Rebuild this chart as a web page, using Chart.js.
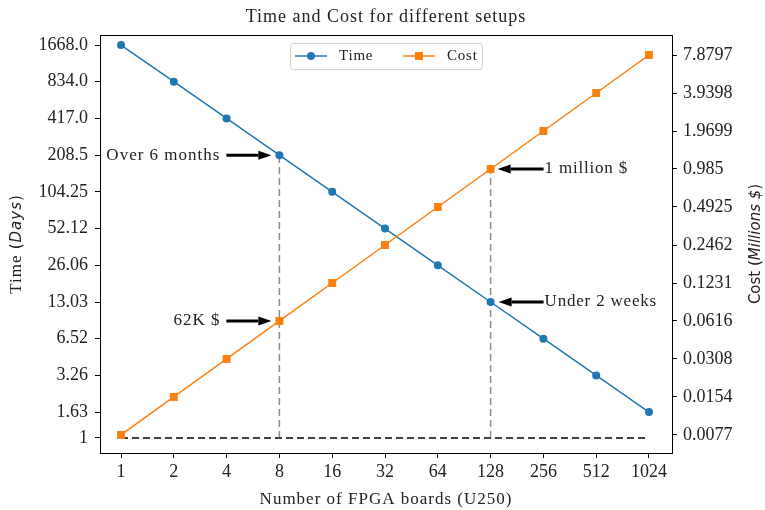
<!DOCTYPE html>
<html>
<head>
<meta charset="utf-8">
<script src="https://cdn.jsdelivr.net/npm/chart.js@4/dist/chart.umd.min.js"></script>
<style>
  body { margin: 0; background: #fff; }
</style>
</head>
<body>
<canvas id="chart" width="765" height="510"></canvas>
<script>
const boards = [1, 2, 4, 8, 16, 32, 64, 128, 256, 512, 1024];
const timeDays = [1668, 834, 417, 208.5, 104.25, 52.12, 26.06, 13.03, 6.52, 3.26, 1.63];
const costMillions = [0.0077, 0.0154, 0.0308, 0.0616, 0.1231, 0.2462, 0.4925, 0.985, 1.9699, 3.9398, 7.8797];
const timeTickLabels = ['1', '1.63', '3.26', '6.52', '13.03', '26.06', '52.12', '104.25', '208.5', '417.0', '834.0', '1668.0'];
const costTickLabels = ['0.0077', '0.0154', '0.0308', '0.0616', '0.1231', '0.2462', '0.4925', '0.985', '1.9699', '3.9398', '7.8797'];

const SERIF = '"Liberation Serif", "Times New Roman", serif';
const SANS = '"DejaVu Sans", sans-serif';
const BLUE = '#1f77b4';
const ORANGE = '#ff7f0e';

function ticksFrom(labels) {
  return function (scale) {
    scale.ticks = labels.map(l => ({ value: parseFloat(l) }));
  };
}

function arrow(ctx, x1, y, x2) {
  // shaft from x1 to x2, head at x2
  const dir = x2 > x1 ? 1 : -1;
  const headLen = 13;
  ctx.save();
  ctx.strokeStyle = '#000';
  ctx.fillStyle = '#000';
  ctx.lineWidth = 3;
  ctx.beginPath();
  ctx.moveTo(x1, y);
  ctx.lineTo(x2 - dir * headLen, y);
  ctx.stroke();
  ctx.beginPath();
  ctx.moveTo(x2, y);
  ctx.lineTo(x2 - dir * headLen, y - 4.5);
  ctx.lineTo(x2 - dir * headLen, y + 4.5);
  ctx.closePath();
  ctx.fill();
  ctx.restore();
}

const extras = {
  id: 'extras',
  beforeDatasetsDraw(chart) {
    const { ctx, scales } = chart;
    const x = scales.x, y = scales.y, y2 = scales.y2;
    const baseY = y.getPixelForValue(1);
    ctx.save();
    ctx.lineWidth = 1.5;
    ctx.setLineDash([7, 4]);
    // vertical guides
    ctx.strokeStyle = '#8c8c8c';
    let px = x.getPixelForValue(8);
    ctx.beginPath();
    ctx.moveTo(px, baseY);
    ctx.lineTo(px, y.getPixelForValue(timeDays[3]));
    ctx.stroke();
    px = x.getPixelForValue(128);
    ctx.beginPath();
    ctx.moveTo(px, baseY);
    ctx.lineTo(px, y2.getPixelForValue(costMillions[7]));
    ctx.stroke();
    // horizontal guide at 1 day
    ctx.strokeStyle = '#404040';
    ctx.lineWidth = 2;
    ctx.beginPath();
    ctx.moveTo(x.getPixelForValue(1), baseY);
    ctx.lineTo(x.getPixelForValue(1024), baseY);
    ctx.stroke();
    ctx.restore();
  },
  afterDraw(chart) {
    const { ctx, scales, chartArea } = chart;
    const x = scales.x, y = scales.y, y2 = scales.y2;
    ctx.save();
    // frame
    ctx.strokeStyle = '#000';
    ctx.lineWidth = 1;
    ctx.strokeRect(chartArea.left + 0.5, chartArea.top + 0.5, chartArea.right - chartArea.left, chartArea.bottom - chartArea.top);

    ctx.letterSpacing = '1px';
    // title
    ctx.fillStyle = '#222';
    ctx.font = '18px ' + SERIF;
    ctx.textAlign = 'center';
    ctx.textBaseline = 'middle';
    ctx.fillText('Time and Cost for different setups', (chartArea.left + chartArea.right) / 2, 17);

    // x title
    ctx.font = '17px ' + SERIF;
    ctx.fillText('Number of FPGA boards (U250)', (chartArea.left + chartArea.right) / 2, 500);

    // left y title
    const cy = (chartArea.top + chartArea.bottom) / 2;
    ctx.save();
    ctx.translate(17, cy);
    ctx.rotate(-Math.PI / 2);
    const parts = [['Time ', '17px ' + SERIF], ['(', '15px ' + SANS], ['Days', 'italic 15px ' + SANS], [')', '15px ' + SANS]];
    let total = 0;
    parts.forEach(p => { ctx.font = p[1]; total += ctx.measureText(p[0]).width; });
    let cx = -total / 2;
    ctx.textAlign = 'left';
    parts.forEach(p => { ctx.font = p[1]; ctx.fillText(p[0], cx, 0); cx += ctx.measureText(p[0]).width; });
    ctx.restore();

    // right y title (reads bottom to top)
    ctx.save();
    ctx.letterSpacing = '0px';
    ctx.translate(756, cy);
    ctx.rotate(-Math.PI / 2);
    const rparts = [['Cost (', '15px ' + SANS], ['Millions $', 'italic 15px ' + SANS], [')', '15px ' + SANS]];
    total = 0;
    rparts.forEach(p => { ctx.font = p[1]; total += ctx.measureText(p[0]).width; });
    cx = -total / 2;
    ctx.textAlign = 'left';
    rparts.forEach(p => { ctx.font = p[1]; ctx.fillText(p[0], cx, 0); cx += ctx.measureText(p[0]).width; });
    ctx.restore();

    // annotations
    ctx.font = '17px ' + SERIF;
    ctx.fillStyle = '#222';
    let px = x.getPixelForValue(8);
    let py = y.getPixelForValue(timeDays[3]);
    arrow(ctx, px - 53, py, px - 8);
    ctx.textAlign = 'right';
    ctx.fillText('Over 6 months', px - 59, py);
    py = y2.getPixelForValue(costMillions[3]);
    arrow(ctx, px - 53, py, px - 8);
    ctx.fillText('62K $', px - 59, py);

    px = x.getPixelForValue(128);
    py = y2.getPixelForValue(costMillions[7]);
    arrow(ctx, px + 53, py, px + 7);
    ctx.textAlign = 'left';
    ctx.letterSpacing = '0.8px';
    ctx.fillText('1 million $', px + 54, py);
    py = y.getPixelForValue(timeDays[7]);
    arrow(ctx, px + 53, py, px + 8);
    ctx.fillText('Under 2 weeks', px + 54, py);

    // legend
    const lx = 290, ly = 43, lw = 192, lh = 26;
    ctx.fillStyle = 'rgba(255,255,255,0.85)';
    ctx.strokeStyle = '#d0d0d0';
    ctx.lineWidth = 1;
    ctx.beginPath();
    ctx.roundRect(lx + 0.5, ly + 0.5, lw, lh, 3);
    ctx.fill();
    ctx.stroke();
    const my = ly + 13;
    ctx.lineWidth = 1.5;
    ctx.strokeStyle = BLUE;
    ctx.beginPath(); ctx.moveTo(295, my); ctx.lineTo(327, my); ctx.stroke();
    ctx.fillStyle = BLUE;
    ctx.beginPath(); ctx.arc(311, my, 4, 0, Math.PI * 2); ctx.fill();
    ctx.strokeStyle = ORANGE;
    ctx.beginPath(); ctx.moveTo(403, my); ctx.lineTo(435, my); ctx.stroke();
    ctx.fillStyle = ORANGE;
    ctx.fillRect(415, my - 4, 8, 8);
    ctx.fillStyle = '#222';
    ctx.font = '15px ' + SERIF;
    ctx.letterSpacing = '0.8px';
    ctx.textAlign = 'left';
    ctx.fillText('Time', 339, my);
    ctx.fillText('Cost', 447, my);
    ctx.letterSpacing = '0px';
    ctx.restore();
  }
};

const tickStyle = { color: '#222', font: { family: SERIF, size: 18 } };
const gridStyle = { drawOnChartArea: false, drawTicks: true, tickLength: 5, tickWidth: 1, color: '#000' };

new Chart(document.getElementById('chart'), {
  type: 'line',
  data: {
    datasets: [
      {
        label: 'Time',
        data: boards.map((b, i) => ({ x: b, y: timeDays[i] })),
        yAxisID: 'y',
        borderColor: BLUE,
        backgroundColor: BLUE,
        borderWidth: 1.5,
        pointStyle: 'circle',
        pointRadius: 4,
        pointBorderWidth: 0,
        order: 1
      },
      {
        label: 'Cost',
        data: boards.map((b, i) => ({ x: b, y: costMillions[i] })),
        yAxisID: 'y2',
        borderColor: ORANGE,
        backgroundColor: ORANGE,
        borderWidth: 1.5,
        pointStyle: 'rect',
        pointRadius: 5.6,
        pointBorderWidth: 0,
        order: 0
      }
    ]
  },
  options: {
    responsive: false,
    animation: false,
    layout: { padding: { top: 35, left: 0, right: 0, bottom: 0 } },
    plugins: { legend: { display: false }, tooltip: { enabled: false }, title: { display: false } },
    scales: {
      x: {
        type: 'logarithmic',
        min: 0.759,
        max: 1385,
        afterBuildTicks: ticksFrom(boards.map(String)),
        afterFit: s => { s.height = 57; },
        ticks: { ...tickStyle, autoSkip: false, maxRotation: 0, padding: 3, callback: (v, i) => String(boards[i]) },
        grid: gridStyle,
        border: { display: true, color: '#000', width: 1 }
      },
      y: {
        type: 'logarithmic',
        position: 'left',
        min: 0.753,
        max: 2015,
        afterBuildTicks: ticksFrom(timeTickLabels),
        afterFit: s => { s.width = 100; },
        ticks: { ...tickStyle, autoSkip: false, padding: 7, callback: (v, i) => timeTickLabels[i] },
        grid: gridStyle,
        border: { display: true, color: '#000', width: 1 }
      },
      y2: {
        type: 'logarithmic',
        position: 'right',
        min: 0.00554,
        max: 11.35,
        afterBuildTicks: ticksFrom(costTickLabels),
        afterFit: s => { s.width = 93; },
        ticks: { ...tickStyle, autoSkip: false, padding: 6, callback: (v, i) => costTickLabels[i] },
        grid: gridStyle,
        border: { display: true, color: '#000', width: 1 }
      }
    }
  },
  plugins: [extras]
});
</script>
</body>
</html>
